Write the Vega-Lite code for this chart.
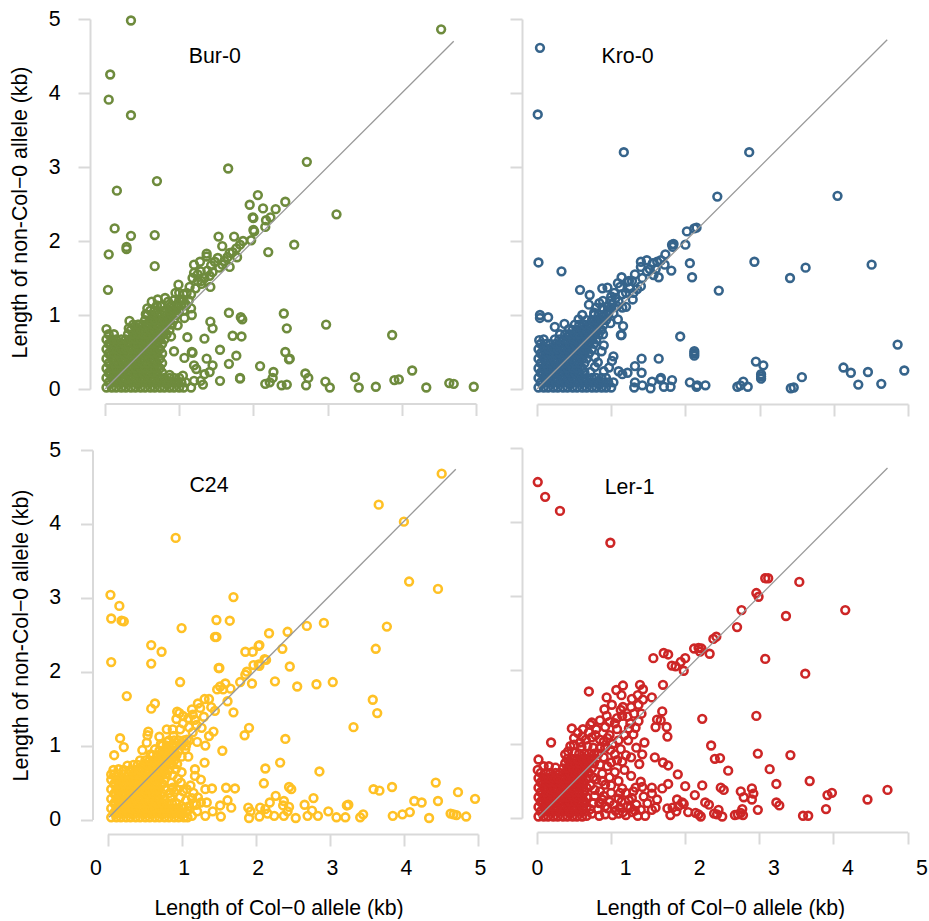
{"$schema":"https://vega.github.io/schema/vega-lite/v6.json","background":"white","padding":{"left":9,"top":8,"right":0,"bottom":0},"columns":2,"spacing":{"row":56,"column":59},"bounds":"flush","config":{"view":{"stroke":null},"axis":{"grid":false,"domainColor":"#d9d9d9","domainWidth":2,"tickColor":"#d9d9d9","tickWidth":2,"tickSize":12,"labelFont":"Liberation Sans","labelFontSize":21.3,"labelColor":"#000000","titleFont":"Liberation Sans","titleFontSize":21.3,"titleFontWeight":"normal","titleColor":"#000000","labelBound":false,"labelFlush":false,"labelOverlap":false,"format":"d"}},
"datasets":{
"bur":[{"x":1.1,"y":1.3},{"x":1.22,"y":1.36},{"x":1.3,"y":1.42},{"x":1.25,"y":1.55},{"x":1.38,"y":1.6},{"x":1.45,"y":1.58},{"x":1.48,"y":1.72},{"x":1.58,"y":1.68},{"x":1.65,"y":1.78},{"x":1.72,"y":1.85},{"x":1.34,"y":1.5},{"x":1.06,"y":1.28},{"x":1.0,"y":1.3},{"x":0.85,"y":1.18},{"x":0.35,"y":4.98},{"x":4.53,"y":4.86},{"x":0.07,"y":4.25},{"x":0.05,"y":3.91},{"x":0.35,"y":3.7},{"x":1.66,"y":2.98},{"x":2.72,"y":3.07},{"x":0.7,"y":2.81},{"x":0.16,"y":2.68},{"x":2.06,"y":2.62},{"x":3.12,"y":2.36},{"x":0.13,"y":2.17},{"x":0.67,"y":2.08},{"x":0.35,"y":2.07},{"x":0.29,"y":1.92},{"x":0.29,"y":1.89},{"x":0.05,"y":1.82},{"x":0.67,"y":1.66},{"x":0.04,"y":1.34},{"x":2.55,"y":1.95},{"x":2.2,"y":1.85},{"x":1.95,"y":2.49},{"x":2.13,"y":2.44},{"x":2.3,"y":2.43},{"x":2.43,"y":2.53},{"x":1.99,"y":2.32},{"x":2.0,"y":2.31},{"x":2.17,"y":2.28},{"x":2.23,"y":2.32},{"x":2.16,"y":2.19},{"x":2.0,"y":2.15},{"x":2.01,"y":2.13},{"x":1.53,"y":2.06},{"x":1.74,"y":2.06},{"x":1.58,"y":1.93},{"x":1.86,"y":2.0},{"x":1.82,"y":1.95},{"x":1.77,"y":1.9},{"x":1.68,"y":1.84},{"x":1.97,"y":2.01},{"x":1.78,"y":1.78},{"x":1.37,"y":1.83},{"x":1.37,"y":1.79},{"x":1.52,"y":1.77},{"x":1.2,"y":1.68},{"x":1.28,"y":1.72},{"x":1.43,"y":1.67},{"x":1.61,"y":1.73},{"x":1.54,"y":1.64},{"x":1.68,"y":1.65},{"x":1.42,"y":1.38},{"x":0.99,"y":1.41},{"x":0.95,"y":1.3},{"x":1.14,"y":1.38},{"x":1.2,"y":1.57},{"x":1.18,"y":1.5},{"x":1.29,"y":1.59},{"x":1.3,"y":1.46},{"x":1.41,"y":1.53},{"x":1.25,"y":1.46},{"x":1.16,"y":1.28},{"x":1.16,"y":1.09},{"x":1.17,"y":1.0},{"x":1.07,"y":0.96},{"x":1.03,"y":1.2},{"x":0.81,"y":1.23},{"x":0.71,"y":1.21},{"x":0.63,"y":1.18},{"x":0.57,"y":1.09},{"x":0.55,"y":1.01},{"x":0.75,"y":1.12},{"x":0.89,"y":1.12},{"x":0.98,"y":1.14},{"x":1.09,"y":1.14},{"x":0.33,"y":0.92},{"x":0.32,"y":0.82},{"x":0.46,"y":0.87},{"x":0.02,"y":0.81},{"x":0.98,"y":0.86},{"x":0.89,"y":0.71},{"x":1.11,"y":0.7},{"x":1.34,"y":0.68},{"x":1.42,"y":0.91},{"x":1.45,"y":0.82},{"x":1.67,"y":1.03},{"x":1.83,"y":0.97},{"x":1.85,"y":0.94},{"x":1.72,"y":0.72},{"x":1.84,"y":0.71},{"x":1.55,"y":0.53},{"x":1.77,"y":0.45},{"x":1.17,"y":0.5},{"x":1.18,"y":0.49},{"x":1.07,"y":0.42},{"x":1.37,"y":0.41},{"x":0.93,"y":0.51},{"x":1.67,"y":0.34},{"x":1.45,"y":0.32},{"x":1.2,"y":0.32},{"x":1.23,"y":0.27},{"x":1.41,"y":0.23},{"x":1.34,"y":0.2},{"x":2.09,"y":0.31},{"x":2.27,"y":0.23},{"x":2.26,"y":0.15},{"x":2.22,"y":0.09},{"x":2.16,"y":0.07},{"x":2.38,"y":0.05},{"x":2.45,"y":0.06},{"x":2.43,"y":0.5},{"x":2.49,"y":0.41},{"x":2.48,"y":0.4},{"x":2.41,"y":1.02},{"x":2.45,"y":0.82},{"x":2.98,"y":0.87},{"x":3.87,"y":0.73},{"x":2.7,"y":0.21},{"x":2.74,"y":0.15},{"x":2.71,"y":0.05},{"x":2.97,"y":0.1},{"x":3.03,"y":0.02},{"x":3.37,"y":0.16},{"x":3.42,"y":0.02},{"x":3.65,"y":0.03},{"x":3.9,"y":0.12},{"x":3.96,"y":0.13},{"x":4.14,"y":0.25},{"x":4.33,"y":0.02},{"x":4.64,"y":0.08},{"x":4.7,"y":0.07},{"x":4.97,"y":0.03},{"x":1.82,"y":0.15},{"x":1.82,"y":0.14},{"x":1.55,"y":0.11},{"x":1.32,"y":0.06},{"x":1.29,"y":0.11},{"x":1.2,"y":0.11},{"x":1.16,"y":0.02},{"x":1.05,"y":0.18},{"x":0.87,"y":0.19},
{"x":0.02,"y":0.02},{"x":0.09,"y":0.02},{"x":0.15,"y":0.02},{"x":0.22,"y":0.02},{"x":0.28,"y":0.02},{"x":0.35,"y":0.02},{"x":0.41,"y":0.02},{"x":0.48,"y":0.02},{"x":0.54,"y":0.02},{"x":0.61,"y":0.02},{"x":0.67,"y":0.02},{"x":0.74,"y":0.02},{"x":0.8,"y":0.02},{"x":0.87,"y":0.02},{"x":0.93,"y":0.02},{"x":1.0,"y":0.02},{"x":1.06,"y":0.02},
{"x":0.05,"y":0.09},{"x":0.12,"y":0.09},{"x":0.18,"y":0.09},{"x":0.25,"y":0.09},{"x":0.31,"y":0.09},{"x":0.38,"y":0.09},{"x":0.44,"y":0.09},{"x":0.51,"y":0.09},{"x":0.57,"y":0.09},{"x":0.64,"y":0.09},{"x":0.7,"y":0.09},{"x":0.77,"y":0.09},{"x":0.83,"y":0.09},{"x":0.9,"y":0.09},{"x":0.96,"y":0.09},{"x":1.03,"y":0.09},{"x":1.09,"y":0.09},
{"x":0.02,"y":0.15},{"x":0.09,"y":0.15},{"x":0.15,"y":0.15},{"x":0.22,"y":0.15},{"x":0.28,"y":0.15},{"x":0.35,"y":0.15},{"x":0.41,"y":0.15},{"x":0.48,"y":0.15},{"x":0.54,"y":0.15},{"x":0.61,"y":0.15},{"x":0.67,"y":0.15},{"x":0.74,"y":0.15},{"x":0.8,"y":0.15},{"x":0.87,"y":0.15},{"x":0.93,"y":0.15},{"x":1.0,"y":0.15},
{"x":0.05,"y":0.22},{"x":0.12,"y":0.22},{"x":0.18,"y":0.22},{"x":0.25,"y":0.22},{"x":0.31,"y":0.22},{"x":0.38,"y":0.22},{"x":0.44,"y":0.22},{"x":0.51,"y":0.22},{"x":0.57,"y":0.22},{"x":0.64,"y":0.22},{"x":0.7,"y":0.22},{"x":0.77,"y":0.22},
{"x":0.02,"y":0.28},{"x":0.09,"y":0.28},{"x":0.15,"y":0.28},{"x":0.22,"y":0.28},{"x":0.28,"y":0.28},{"x":0.35,"y":0.28},{"x":0.41,"y":0.28},{"x":0.48,"y":0.28},{"x":0.54,"y":0.28},{"x":0.61,"y":0.28},{"x":0.67,"y":0.28},{"x":0.74,"y":0.28},
{"x":0.05,"y":0.35},{"x":0.12,"y":0.35},{"x":0.18,"y":0.35},{"x":0.25,"y":0.35},{"x":0.31,"y":0.35},{"x":0.38,"y":0.35},{"x":0.44,"y":0.35},{"x":0.51,"y":0.35},{"x":0.57,"y":0.35},{"x":0.64,"y":0.35},{"x":0.7,"y":0.35},{"x":0.77,"y":0.35},
{"x":0.02,"y":0.41},{"x":0.09,"y":0.41},{"x":0.15,"y":0.41},{"x":0.22,"y":0.41},{"x":0.28,"y":0.41},{"x":0.35,"y":0.41},{"x":0.41,"y":0.41},{"x":0.48,"y":0.41},{"x":0.54,"y":0.41},{"x":0.61,"y":0.41},{"x":0.67,"y":0.41},{"x":0.74,"y":0.41},
{"x":0.05,"y":0.48},{"x":0.12,"y":0.48},{"x":0.18,"y":0.48},{"x":0.25,"y":0.48},{"x":0.31,"y":0.48},{"x":0.38,"y":0.48},{"x":0.44,"y":0.48},{"x":0.51,"y":0.48},{"x":0.57,"y":0.48},{"x":0.64,"y":0.48},{"x":0.7,"y":0.48},{"x":0.77,"y":0.48},
{"x":0.02,"y":0.54},{"x":0.09,"y":0.54},{"x":0.15,"y":0.54},{"x":0.22,"y":0.54},{"x":0.28,"y":0.54},{"x":0.35,"y":0.54},{"x":0.41,"y":0.54},{"x":0.48,"y":0.54},{"x":0.54,"y":0.54},{"x":0.61,"y":0.54},{"x":0.67,"y":0.54},{"x":0.74,"y":0.54},
{"x":0.05,"y":0.61},{"x":0.12,"y":0.61},{"x":0.18,"y":0.61},{"x":0.25,"y":0.61},{"x":0.31,"y":0.61},{"x":0.38,"y":0.61},{"x":0.44,"y":0.61},{"x":0.51,"y":0.61},{"x":0.57,"y":0.61},{"x":0.64,"y":0.61},{"x":0.7,"y":0.61},{"x":0.77,"y":0.61},
{"x":0.02,"y":0.67},{"x":0.09,"y":0.67},{"x":0.15,"y":0.67},{"x":0.22,"y":0.67},{"x":0.28,"y":0.67},{"x":0.35,"y":0.67},{"x":0.41,"y":0.67},{"x":0.48,"y":0.67},{"x":0.54,"y":0.67},{"x":0.61,"y":0.67},{"x":0.67,"y":0.67},{"x":0.74,"y":0.67},{"x":0.8,"y":0.67},
{"x":0.05,"y":0.74},{"x":0.12,"y":0.74},{"x":0.31,"y":0.74},{"x":0.38,"y":0.74},{"x":0.44,"y":0.74},{"x":0.51,"y":0.74},{"x":0.57,"y":0.74},{"x":0.64,"y":0.74},{"x":0.7,"y":0.74},{"x":0.77,"y":0.74},{"x":0.83,"y":0.74},
{"x":0.35,"y":0.8},{"x":0.41,"y":0.8},{"x":0.48,"y":0.8},{"x":0.54,"y":0.8},{"x":0.61,"y":0.8},{"x":0.67,"y":0.8},{"x":0.74,"y":0.8},{"x":0.8,"y":0.8},{"x":0.87,"y":0.8},
{"x":0.38,"y":0.87},{"x":0.44,"y":0.87},{"x":0.51,"y":0.87},{"x":0.57,"y":0.87},{"x":0.64,"y":0.87},{"x":0.7,"y":0.87},{"x":0.77,"y":0.87},{"x":0.83,"y":0.87},{"x":0.9,"y":0.87},
{"x":0.54,"y":0.93},{"x":0.61,"y":0.93},{"x":0.67,"y":0.93},{"x":0.74,"y":0.93},{"x":0.8,"y":0.93},{"x":0.87,"y":0.93},{"x":0.93,"y":0.93},
{"x":0.57,"y":1.0},{"x":0.64,"y":1.0},{"x":0.7,"y":1.0},{"x":0.77,"y":1.0},{"x":0.83,"y":1.0},{"x":0.9,"y":1.0},{"x":0.96,"y":1.0},
{"x":0.61,"y":1.06},{"x":0.67,"y":1.06},{"x":0.8,"y":1.06},{"x":0.87,"y":1.06},{"x":0.93,"y":1.06},{"x":1.0,"y":1.06},{"x":1.06,"y":1.06},
{"x":0.7,"y":1.13},{"x":0.77,"y":1.13},{"x":0.9,"y":1.13},{"x":0.96,"y":1.13},{"x":1.03,"y":1.13},{"x":1.09,"y":1.13},{"x":0.93,"y":1.2},{"x":1.0,"y":1.2},{"x":1.06,"y":1.2},{"x":1.13,"y":1.2}],
"kro":[{"x":1.12,"y":1.38},{"x":1.2,"y":1.3},{"x":1.25,"y":1.36},{"x":1.3,"y":1.3},{"x":1.0,"y":1.25},{"x":1.1,"y":1.18},{"x":0.8,"y":1.1},{"x":0.84,"y":1.16},{"x":1.02,"y":1.15},{"x":0.95,"y":1.12},{"x":1.32,"y":1.55},{"x":1.52,"y":1.62},{"x":1.56,"y":1.7},{"x":1.6,"y":1.62},{"x":1.22,"y":1.45},{"x":0.04,"y":4.61},{"x":0.01,"y":3.71},{"x":1.17,"y":3.2},{"x":2.86,"y":3.2},{"x":2.43,"y":2.6},{"x":4.05,"y":2.61},{"x":0.02,"y":1.71},{"x":0.33,"y":1.59},{"x":2.93,"y":1.72},{"x":3.62,"y":1.64},{"x":3.41,"y":1.5},{"x":4.51,"y":1.68},{"x":2.45,"y":1.33},{"x":1.93,"y":0.71},{"x":2.12,"y":0.51},{"x":2.12,"y":0.48},{"x":2.12,"y":0.45},{"x":4.86,"y":0.6},{"x":4.95,"y":0.25},{"x":4.13,"y":0.29},{"x":4.23,"y":0.22},{"x":4.46,"y":0.23},{"x":4.33,"y":0.06},{"x":4.64,"y":0.07},{"x":3.57,"y":0.16},{"x":3.42,"y":0.01},{"x":3.46,"y":0.02},{"x":2.95,"y":0.37},{"x":3.05,"y":0.32},{"x":3.02,"y":0.2},{"x":3.02,"y":0.17},{"x":3.02,"y":0.14},{"x":2.7,"y":0.03},{"x":2.74,"y":0.05},{"x":2.78,"y":0.1},{"x":2.84,"y":0.03},{"x":2.27,"y":0.05},{"x":2.16,"y":0.05},{"x":2.15,"y":0.03},{"x":2.06,"y":0.09},{"x":1.8,"y":0.03},{"x":1.82,"y":0.12},{"x":1.71,"y":0.03},{"x":1.67,"y":0.15},{"x":1.66,"y":0.13},{"x":1.55,"y":0.1},{"x":1.53,"y":0.01},{"x":1.42,"y":0.05},{"x":1.31,"y":0.02},{"x":1.32,"y":0.09},{"x":1.41,"y":0.22},{"x":1.41,"y":0.41},{"x":1.64,"y":0.41},{"x":1.32,"y":0.31},{"x":1.22,"y":0.22},{"x":1.1,"y":0.24},{"x":1.15,"y":0.2},{"x":1.03,"y":0.44},{"x":1.01,"y":0.38},{"x":0.97,"y":0.29},{"x":0.9,"y":0.59},{"x":0.87,"y":0.51},{"x":0.89,"y":0.74},{"x":1.14,"y":0.73},{"x":1.13,"y":0.73},{"x":1.16,"y":0.85},{"x":1.09,"y":0.94},{"x":0.99,"y":0.89},{"x":0.04,"y":1.0},{"x":0.04,"y":0.96},{"x":0.15,"y":0.97},{"x":0.24,"y":0.84},{"x":0.37,"y":0.88},{"x":0.43,"y":0.81},{"x":0.56,"y":0.94},{"x":0.61,"y":1.0},{"x":0.58,"y":1.34},{"x":0.71,"y":1.27},{"x":0.7,"y":1.14},{"x":0.88,"y":1.36},{"x":0.95,"y":1.37},{"x":1.14,"y":1.51},{"x":1.09,"y":1.43},{"x":1.24,"y":1.46},{"x":1.28,"y":1.46},{"x":0.89,"y":1.19},{"x":1.04,"y":1.3},{"x":1.15,"y":1.28},{"x":1.29,"y":1.21},{"x":1.2,"y":1.11},{"x":1.15,"y":1.1},{"x":0.88,"y":1.1},{"x":0.95,"y":1.05},{"x":0.77,"y":1.03},{"x":1.06,"y":1.23},{"x":0.99,"y":1.19},{"x":1.35,"y":1.35},{"x":1.4,"y":1.39},{"x":1.42,"y":1.5},{"x":1.4,"y":1.72},{"x":1.4,"y":1.65},{"x":1.48,"y":1.74},{"x":1.48,"y":1.59},{"x":1.57,"y":1.54},{"x":1.64,"y":1.51},{"x":1.62,"y":1.72},{"x":1.67,"y":1.74},{"x":1.72,"y":1.68},{"x":1.73,"y":1.82},{"x":1.81,"y":1.6},{"x":2.06,"y":1.7},{"x":2.09,"y":1.51},{"x":1.82,"y":1.95},{"x":1.84,"y":1.96},{"x":1.83,"y":1.92},{"x":2.0,"y":1.95},{"x":2.02,"y":2.13},{"x":2.12,"y":2.17},{"x":2.15,"y":2.18},
{"x":0.02,"y":0.02},{"x":0.09,"y":0.02},{"x":0.15,"y":0.02},{"x":0.22,"y":0.02},{"x":0.28,"y":0.02},{"x":0.35,"y":0.02},{"x":0.41,"y":0.02},{"x":0.48,"y":0.02},{"x":0.54,"y":0.02},{"x":0.61,"y":0.02},{"x":0.67,"y":0.02},{"x":0.74,"y":0.02},{"x":0.8,"y":0.02},{"x":0.87,"y":0.02},{"x":0.93,"y":0.02},{"x":1.0,"y":0.02},
{"x":0.05,"y":0.09},{"x":0.12,"y":0.09},{"x":0.18,"y":0.09},{"x":0.25,"y":0.09},{"x":0.31,"y":0.09},{"x":0.38,"y":0.09},{"x":0.44,"y":0.09},{"x":0.51,"y":0.09},{"x":0.57,"y":0.09},{"x":0.64,"y":0.09},{"x":0.7,"y":0.09},{"x":0.77,"y":0.09},{"x":0.83,"y":0.09},{"x":0.9,"y":0.09},{"x":0.96,"y":0.09},{"x":1.03,"y":0.09},
{"x":0.02,"y":0.15},{"x":0.09,"y":0.15},{"x":0.15,"y":0.15},{"x":0.22,"y":0.15},{"x":0.28,"y":0.15},{"x":0.35,"y":0.15},{"x":0.41,"y":0.15},{"x":0.48,"y":0.15},{"x":0.54,"y":0.15},{"x":0.61,"y":0.15},{"x":0.67,"y":0.15},{"x":0.74,"y":0.15},{"x":0.8,"y":0.15},{"x":0.87,"y":0.15},{"x":0.93,"y":0.15},
{"x":0.05,"y":0.22},{"x":0.12,"y":0.22},{"x":0.18,"y":0.22},{"x":0.25,"y":0.22},{"x":0.31,"y":0.22},{"x":0.38,"y":0.22},{"x":0.44,"y":0.22},{"x":0.51,"y":0.22},{"x":0.57,"y":0.22},{"x":0.64,"y":0.22},{"x":0.72,"y":0.23},{"x":0.9,"y":0.24},
{"x":0.02,"y":0.28},{"x":0.09,"y":0.28},{"x":0.15,"y":0.28},{"x":0.22,"y":0.28},{"x":0.28,"y":0.28},{"x":0.35,"y":0.28},{"x":0.41,"y":0.28},{"x":0.48,"y":0.28},{"x":0.54,"y":0.28},{"x":0.61,"y":0.28},{"x":0.78,"y":0.3},
{"x":0.05,"y":0.35},{"x":0.12,"y":0.35},{"x":0.18,"y":0.35},{"x":0.25,"y":0.35},{"x":0.31,"y":0.35},{"x":0.38,"y":0.35},{"x":0.44,"y":0.35},{"x":0.51,"y":0.35},{"x":0.57,"y":0.35},{"x":0.64,"y":0.35},{"x":0.82,"y":0.36},
{"x":0.02,"y":0.41},{"x":0.09,"y":0.41},{"x":0.15,"y":0.41},{"x":0.22,"y":0.41},{"x":0.28,"y":0.41},{"x":0.35,"y":0.41},{"x":0.41,"y":0.41},{"x":0.48,"y":0.41},{"x":0.54,"y":0.41},{"x":0.61,"y":0.41},{"x":0.67,"y":0.41},{"x":0.78,"y":0.43},
{"x":0.05,"y":0.48},{"x":0.12,"y":0.48},{"x":0.18,"y":0.48},{"x":0.25,"y":0.48},{"x":0.31,"y":0.48},{"x":0.38,"y":0.48},{"x":0.44,"y":0.48},{"x":0.51,"y":0.48},{"x":0.57,"y":0.48},{"x":0.64,"y":0.48},{"x":0.7,"y":0.48},
{"x":0.02,"y":0.54},{"x":0.09,"y":0.54},{"x":0.15,"y":0.54},{"x":0.22,"y":0.54},{"x":0.28,"y":0.54},{"x":0.35,"y":0.54},{"x":0.41,"y":0.54},{"x":0.48,"y":0.54},{"x":0.54,"y":0.54},{"x":0.61,"y":0.54},{"x":0.67,"y":0.54},{"x":0.74,"y":0.54},
{"x":0.05,"y":0.61},{"x":0.12,"y":0.61},{"x":0.18,"y":0.61},{"x":0.25,"y":0.61},{"x":0.31,"y":0.61},{"x":0.38,"y":0.61},{"x":0.44,"y":0.61},{"x":0.51,"y":0.61},{"x":0.57,"y":0.61},{"x":0.64,"y":0.61},{"x":0.7,"y":0.61},{"x":0.77,"y":0.61},
{"x":0.03,"y":0.66},{"x":0.09,"y":0.67},{"x":0.24,"y":0.67},{"x":0.3,"y":0.67},{"x":0.36,"y":0.67},{"x":0.41,"y":0.67},{"x":0.48,"y":0.67},{"x":0.54,"y":0.67},{"x":0.61,"y":0.67},{"x":0.67,"y":0.67},{"x":0.74,"y":0.67},{"x":0.8,"y":0.67},
{"x":0.31,"y":0.74},{"x":0.38,"y":0.74},{"x":0.44,"y":0.74},{"x":0.51,"y":0.74},{"x":0.57,"y":0.74},{"x":0.64,"y":0.74},{"x":0.7,"y":0.74},{"x":0.77,"y":0.74},{"x":0.83,"y":0.74},
{"x":0.48,"y":0.8},{"x":0.54,"y":0.8},{"x":0.61,"y":0.8},{"x":0.67,"y":0.8},{"x":0.74,"y":0.8},{"x":0.8,"y":0.8},{"x":0.87,"y":0.8},{"x":0.51,"y":0.87},{"x":0.57,"y":0.87},{"x":0.64,"y":0.87},{"x":0.7,"y":0.87},{"x":0.77,"y":0.87},{"x":0.83,"y":0.87},{"x":0.9,"y":0.87},{"x":0.67,"y":0.93},{"x":0.74,"y":0.93},{"x":0.8,"y":0.93},{"x":0.87,"y":0.93},{"x":0.93,"y":0.93},{"x":0.77,"y":1.0},{"x":0.83,"y":1.0},{"x":0.9,"y":1.0},{"x":0.96,"y":1.0},{"x":1.03,"y":1.02},{"x":1.0,"y":1.1},{"x":1.08,"y":1.12}],
"c24":[{"x":0.84,"y":0.36},{"x":0.88,"y":0.43},{"x":0.94,"y":0.4},{"x":0.86,"y":0.5},{"x":0.98,"y":0.3},{"x":1.02,"y":0.38},{"x":1.06,"y":0.26},{"x":1.0,"y":0.18},{"x":1.08,"y":0.12},{"x":1.14,"y":0.05},{"x":1.08,"y":0.03},{"x":1.2,"y":0.2},{"x":1.22,"y":0.3},{"x":1.12,"y":0.46},{"x":0.95,"y":0.55},{"x":0.88,"y":0.6},{"x":1.0,"y":0.85},{"x":0.92,"y":0.68},{"x":1.05,"y":0.95},{"x":1.15,"y":1.18},{"x":1.1,"y":1.25},{"x":1.02,"y":1.3},{"x":0.88,"y":1.22},{"x":0.72,"y":1.02},{"x":0.64,"y":0.95},{"x":0.58,"y":0.88},{"x":0.8,"y":1.05},{"x":1.2,"y":1.28},{"x":1.15,"y":1.42},{"x":1.02,"y":1.4},{"x":4.51,"y":4.68},{"x":3.66,"y":4.26},{"x":4.0,"y":4.03},{"x":0.92,"y":3.81},{"x":4.07,"y":3.22},{"x":4.46,"y":3.12},{"x":0.04,"y":3.04},{"x":1.7,"y":3.01},{"x":0.16,"y":2.89},{"x":0.05,"y":2.72},{"x":0.19,"y":2.69},{"x":0.22,"y":2.68},{"x":1.47,"y":2.7},{"x":1.65,"y":2.69},{"x":1.47,"y":2.47},{"x":1.0,"y":2.59},{"x":2.69,"y":2.62},{"x":2.92,"y":2.66},{"x":3.77,"y":2.61},{"x":2.43,"y":2.54},{"x":2.04,"y":2.35},{"x":1.51,"y":2.05},{"x":2.14,"y":2.16},{"x":2.04,"y":2.1},{"x":1.45,"y":2.47},{"x":2.18,"y":2.52},{"x":0.59,"y":2.36},{"x":0.73,"y":2.27},{"x":1.86,"y":2.27},{"x":1.96,"y":2.27},{"x":2.05,"y":2.36},{"x":2.36,"y":2.31},{"x":3.62,"y":2.31},{"x":0.05,"y":2.13},{"x":0.59,"y":2.11},{"x":2.12,"y":2.17},{"x":1.97,"y":2.09},{"x":2.05,"y":2.08},{"x":2.46,"y":2.07},{"x":1.5,"y":2.05},{"x":1.88,"y":2.0},{"x":1.86,"y":1.96},{"x":1.79,"y":1.86},{"x":1.95,"y":1.84},{"x":2.26,"y":1.87},{"x":2.56,"y":1.8},{"x":2.82,"y":1.83},{"x":3.04,"y":1.86},{"x":0.98,"y":1.86},{"x":3.58,"y":1.62},{"x":3.64,"y":1.44},{"x":3.32,"y":1.25},{"x":0.26,"y":1.67},{"x":0.64,"y":1.57},{"x":0.59,"y":1.5},{"x":1.52,"y":1.8},{"x":1.59,"y":1.84},{"x":1.48,"y":1.76},{"x":1.66,"y":1.77},{"x":1.56,"y":1.76},{"x":1.62,"y":1.6},{"x":1.7,"y":1.45},{"x":1.37,"y":1.63},{"x":1.31,"y":1.63},{"x":1.22,"y":1.57},{"x":1.45,"y":1.47},{"x":1.4,"y":1.52},{"x":1.14,"y":1.49},{"x":1.25,"y":1.51},{"x":0.94,"y":1.46},{"x":0.97,"y":1.44},{"x":0.93,"y":1.36},{"x":1.09,"y":1.37},{"x":1.18,"y":1.35},{"x":1.3,"y":1.39},{"x":1.91,"y":1.24},{"x":1.85,"y":1.14},{"x":2.4,"y":1.09},{"x":1.43,"y":1.19},{"x":1.37,"y":1.13},{"x":1.32,"y":1.0},{"x":1.21,"y":1.05},{"x":1.55,"y":0.93},{"x":1.27,"y":1.24},{"x":0.55,"y":1.19},{"x":0.54,"y":1.14},{"x":0.7,"y":1.12},{"x":0.8,"y":1.22},{"x":0.17,"y":1.1},{"x":0.22,"y":0.98},{"x":0.09,"y":0.87},{"x":0.53,"y":1.04},{"x":0.47,"y":0.94},{"x":0.89,"y":1.13},{"x":0.98,"y":1.22},{"x":1.07,"y":1.08},{"x":1.09,"y":0.85},{"x":1.31,"y":0.77},{"x":0.94,"y":0.75},{"x":1.18,"y":0.68},{"x":1.18,"y":0.59},{"x":1.0,"y":0.64},{"x":1.26,"y":0.54},{"x":0.99,"y":0.5},{"x":2.13,"y":0.69},{"x":2.33,"y":0.77},{"x":2.86,"y":0.65},{"x":2.11,"y":0.49},{"x":1.6,"y":0.43},{"x":1.72,"y":0.42},{"x":1.41,"y":0.42},{"x":1.32,"y":0.41},{"x":2.45,"y":0.44},{"x":2.48,"y":0.41},{"x":3.59,"y":0.41},{"x":3.67,"y":0.39},{"x":3.84,"y":0.44},{"x":4.43,"y":0.5},{"x":4.73,"y":0.37},{"x":4.96,"y":0.28},{"x":4.14,"y":0.25},{"x":4.24,"y":0.23},{"x":4.46,"y":0.25},{"x":2.27,"y":0.32},{"x":2.19,"y":0.23},{"x":2.38,"y":0.25},{"x":2.78,"y":0.29},{"x":2.66,"y":0.2},{"x":3.23,"y":0.19},{"x":3.25,"y":0.2},{"x":2.45,"y":0.17},{"x":2.37,"y":0.19},{"x":2.06,"y":0.16},{"x":1.9,"y":0.16},{"x":1.93,"y":0.11},{"x":1.91,"y":0.02},{"x":2.05,"y":0.04},{"x":2.13,"y":0.14},{"x":2.16,"y":0.08},{"x":2.25,"y":0.05},{"x":2.38,"y":0.05},{"x":2.43,"y":0.11},{"x":2.54,"y":0.02},{"x":2.7,"y":0.05},{"x":2.76,"y":0.12},{"x":2.84,"y":0.05},{"x":2.98,"y":0.11},{"x":3.09,"y":0.03},{"x":3.21,"y":0.03},{"x":3.41,"y":0.03},{"x":3.45,"y":0.07},{"x":3.85,"y":0.05},{"x":3.98,"y":0.07},{"x":4.08,"y":0.1},{"x":4.34,"y":0.02},{"x":4.63,"y":0.08},{"x":4.67,"y":0.07},{"x":4.71,"y":0.06},{"x":4.84,"y":0.04},{"x":1.67,"y":0.16},{"x":1.62,"y":0.26},{"x":1.52,"y":0.19},{"x":1.53,"y":0.04},{"x":1.42,"y":0.11},{"x":1.32,"y":0.05},{"x":1.26,"y":0.23},{"x":1.34,"y":0.23},{"x":1.16,"y":0.36},{"x":1.07,"y":0.41},{"x":1.14,"y":0.29},{"x":1.21,"y":0.11},{"x":1.1,"y":0.18},{"x":1.16,"y":0.22},
{"x":0.05,"y":0.03},{"x":0.12,"y":0.03},{"x":0.18,"y":0.03},{"x":0.25,"y":0.03},{"x":0.31,"y":0.03},{"x":0.38,"y":0.03},{"x":0.44,"y":0.03},{"x":0.51,"y":0.03},{"x":0.57,"y":0.03},{"x":0.64,"y":0.03},{"x":0.7,"y":0.03},{"x":0.77,"y":0.03},{"x":0.83,"y":0.03},{"x":0.9,"y":0.03},{"x":0.96,"y":0.03},{"x":1.03,"y":0.03},
{"x":0.09,"y":0.09},{"x":0.15,"y":0.09},{"x":0.22,"y":0.09},{"x":0.28,"y":0.09},{"x":0.35,"y":0.09},{"x":0.41,"y":0.09},{"x":0.48,"y":0.09},{"x":0.54,"y":0.09},{"x":0.61,"y":0.09},{"x":0.67,"y":0.09},{"x":0.74,"y":0.09},{"x":0.8,"y":0.09},{"x":0.87,"y":0.09},{"x":0.93,"y":0.09},{"x":1.0,"y":0.09},{"x":1.06,"y":0.09},
{"x":0.05,"y":0.15},{"x":0.12,"y":0.15},{"x":0.18,"y":0.15},{"x":0.25,"y":0.15},{"x":0.31,"y":0.15},{"x":0.38,"y":0.15},{"x":0.44,"y":0.15},{"x":0.51,"y":0.15},{"x":0.57,"y":0.15},{"x":0.64,"y":0.15},{"x":0.7,"y":0.15},{"x":0.77,"y":0.15},{"x":0.83,"y":0.15},{"x":0.9,"y":0.15},{"x":0.96,"y":0.15},{"x":1.03,"y":0.15},
{"x":0.09,"y":0.22},{"x":0.15,"y":0.22},{"x":0.22,"y":0.22},{"x":0.28,"y":0.22},{"x":0.35,"y":0.22},{"x":0.41,"y":0.22},{"x":0.48,"y":0.22},{"x":0.54,"y":0.22},{"x":0.61,"y":0.22},{"x":0.67,"y":0.22},{"x":0.74,"y":0.22},{"x":0.8,"y":0.22},{"x":0.87,"y":0.22},{"x":0.93,"y":0.22},
{"x":0.05,"y":0.28},{"x":0.12,"y":0.28},{"x":0.18,"y":0.28},{"x":0.25,"y":0.28},{"x":0.31,"y":0.28},{"x":0.38,"y":0.28},{"x":0.44,"y":0.28},{"x":0.51,"y":0.28},{"x":0.57,"y":0.28},{"x":0.64,"y":0.28},{"x":0.7,"y":0.28},{"x":0.77,"y":0.28},{"x":0.85,"y":0.3},
{"x":0.09,"y":0.35},{"x":0.15,"y":0.35},{"x":0.22,"y":0.35},{"x":0.28,"y":0.35},{"x":0.35,"y":0.35},{"x":0.41,"y":0.35},{"x":0.48,"y":0.35},{"x":0.54,"y":0.35},{"x":0.61,"y":0.35},{"x":0.67,"y":0.35},{"x":0.74,"y":0.35},{"x":0.9,"y":0.37},
{"x":0.05,"y":0.41},{"x":0.12,"y":0.41},{"x":0.18,"y":0.41},{"x":0.25,"y":0.41},{"x":0.31,"y":0.41},{"x":0.38,"y":0.41},{"x":0.44,"y":0.41},{"x":0.51,"y":0.41},{"x":0.57,"y":0.41},{"x":0.64,"y":0.41},{"x":0.7,"y":0.41},{"x":0.77,"y":0.41},
{"x":0.09,"y":0.48},{"x":0.15,"y":0.48},{"x":0.22,"y":0.48},{"x":0.28,"y":0.48},{"x":0.35,"y":0.48},{"x":0.41,"y":0.48},{"x":0.48,"y":0.48},{"x":0.54,"y":0.48},{"x":0.61,"y":0.48},{"x":0.67,"y":0.48},{"x":0.74,"y":0.48},
{"x":0.05,"y":0.54},{"x":0.12,"y":0.54},{"x":0.18,"y":0.54},{"x":0.25,"y":0.54},{"x":0.31,"y":0.54},{"x":0.38,"y":0.54},{"x":0.44,"y":0.54},{"x":0.51,"y":0.54},{"x":0.57,"y":0.54},{"x":0.64,"y":0.54},{"x":0.7,"y":0.54},{"x":0.77,"y":0.54},
{"x":0.05,"y":0.61},{"x":0.09,"y":0.61},{"x":0.15,"y":0.61},{"x":0.22,"y":0.61},{"x":0.28,"y":0.61},{"x":0.35,"y":0.61},{"x":0.41,"y":0.61},{"x":0.48,"y":0.61},{"x":0.54,"y":0.61},{"x":0.61,"y":0.61},{"x":0.67,"y":0.61},{"x":0.74,"y":0.61},{"x":0.8,"y":0.61},
{"x":0.08,"y":0.67},{"x":0.15,"y":0.68},{"x":0.22,"y":0.67},{"x":0.31,"y":0.67},{"x":0.38,"y":0.67},{"x":0.44,"y":0.67},{"x":0.51,"y":0.67},{"x":0.57,"y":0.67},{"x":0.64,"y":0.67},{"x":0.7,"y":0.67},{"x":0.77,"y":0.67},{"x":0.83,"y":0.67},
{"x":0.27,"y":0.73},{"x":0.35,"y":0.74},{"x":0.41,"y":0.74},{"x":0.48,"y":0.74},{"x":0.54,"y":0.74},{"x":0.61,"y":0.74},{"x":0.67,"y":0.74},{"x":0.74,"y":0.74},{"x":0.8,"y":0.74},{"x":0.87,"y":0.74},
{"x":0.44,"y":0.8},{"x":0.51,"y":0.8},{"x":0.57,"y":0.8},{"x":0.64,"y":0.8},{"x":0.7,"y":0.8},{"x":0.77,"y":0.8},{"x":0.83,"y":0.8},{"x":0.9,"y":0.8},
{"x":0.61,"y":0.87},{"x":0.67,"y":0.87},{"x":0.74,"y":0.87},{"x":0.8,"y":0.87},{"x":0.87,"y":0.87},{"x":0.93,"y":0.87},{"x":0.7,"y":0.93},{"x":0.77,"y":0.93},{"x":0.83,"y":0.93},{"x":0.9,"y":0.93},{"x":0.96,"y":0.93},{"x":0.74,"y":1.0},{"x":0.8,"y":1.0},{"x":0.87,"y":1.0},{"x":0.93,"y":1.0},{"x":1.0,"y":1.0},{"x":1.06,"y":1.0},{"x":0.83,"y":1.07},{"x":0.9,"y":1.07},{"x":0.96,"y":1.07},{"x":1.03,"y":1.07},{"x":1.1,"y":1.07}],
"ler":[{"x":0.5,"y":1.08},{"x":0.58,"y":1.02},{"x":0.66,"y":1.06},{"x":0.7,"y":1.16},{"x":0.8,"y":1.2},{"x":0.85,"y":1.06},{"x":0.98,"y":1.12},{"x":1.02,"y":1.0},{"x":1.1,"y":1.05},{"x":1.18,"y":1.12},{"x":1.3,"y":1.13},{"x":1.05,"y":1.28},{"x":0.85,"y":1.32},{"x":0.98,"y":1.3},{"x":1.26,"y":1.28},{"x":1.2,"y":0.85},{"x":1.05,"y":0.86},{"x":0.9,"y":0.82},{"x":1.0,"y":0.75},{"x":0.62,"y":1.2},{"x":0.55,"y":1.15},{"x":1.33,"y":1.22},{"x":0.78,"y":0.38},{"x":0.9,"y":0.3},{"x":0.98,"y":0.22},{"x":1.06,"y":0.1},{"x":1.14,"y":0.22},{"x":1.24,"y":0.24},{"x":1.3,"y":0.36},{"x":1.12,"y":0.34},{"x":0.84,"y":0.2},{"x":0.92,"y":0.16},{"x":1.0,"y":0.44},{"x":1.1,"y":0.5},{"x":0.88,"y":0.5},{"x":0.76,"y":0.55},{"x":0.72,"y":0.12},{"x":1.16,"y":0.08},{"x":1.26,"y":0.14},{"x":1.32,"y":0.1},{"x":0.01,"y":4.54},{"x":0.11,"y":4.34},{"x":0.31,"y":4.15},{"x":0.99,"y":3.72},{"x":3.08,"y":3.24},{"x":3.12,"y":3.24},{"x":3.54,"y":3.19},{"x":2.96,"y":3.04},{"x":2.99,"y":2.99},{"x":2.76,"y":2.81},{"x":4.16,"y":2.81},{"x":3.36,"y":2.73},{"x":2.7,"y":2.58},{"x":2.42,"y":2.45},{"x":2.38,"y":2.42},{"x":2.12,"y":2.29},{"x":2.18,"y":2.3},{"x":2.22,"y":2.29},{"x":2.2,"y":2.25},{"x":2.33,"y":2.22},{"x":3.08,"y":2.15},{"x":3.62,"y":1.95},{"x":1.57,"y":2.16},{"x":1.71,"y":2.23},{"x":1.77,"y":2.21},{"x":2.0,"y":2.16},{"x":1.94,"y":2.11},{"x":1.82,"y":2.06},{"x":1.87,"y":2.05},{"x":1.98,"y":1.99},{"x":0.7,"y":1.71},{"x":1.07,"y":1.73},{"x":1.16,"y":1.79},{"x":1.14,"y":1.66},{"x":1.39,"y":1.8},{"x":1.43,"y":1.74},{"x":1.7,"y":1.8},{"x":0.94,"y":1.63},{"x":1.01,"y":1.53},{"x":0.91,"y":1.47},{"x":0.94,"y":1.38},{"x":1.28,"y":1.61},{"x":1.36,"y":1.66},{"x":1.43,"y":1.6},{"x":1.55,"y":1.63},{"x":1.16,"y":1.5},{"x":1.27,"y":1.5},{"x":1.37,"y":1.53},{"x":1.41,"y":1.41},{"x":1.13,"y":1.46},{"x":1.08,"y":1.35},{"x":1.15,"y":1.38},{"x":1.22,"y":1.37},{"x":1.31,"y":1.41},{"x":1.37,"y":1.31},{"x":1.69,"y":1.44},{"x":1.62,"y":1.33},{"x":1.67,"y":1.32},{"x":1.6,"y":1.23},{"x":1.75,"y":1.23},{"x":1.76,"y":1.1},{"x":2.23,"y":1.34},{"x":2.96,"y":1.38},{"x":0.47,"y":1.21},{"x":0.72,"y":1.26},{"x":0.74,"y":1.29},{"x":0.92,"y":1.23},{"x":1.08,"y":1.2},{"x":1.24,"y":1.21},{"x":0.61,"y":1.1},{"x":0.74,"y":1.09},{"x":0.79,"y":1.12},{"x":0.95,"y":1.08},{"x":0.9,"y":1.03},{"x":1.23,"y":1.05},{"x":0.19,"y":1.02},{"x":0.45,"y":0.97},{"x":0.5,"y":0.99},{"x":1.45,"y":1.02},{"x":1.34,"y":0.95},{"x":1.13,"y":0.93},{"x":0.99,"y":0.92},{"x":0.38,"y":0.86},{"x":1.42,"y":0.86},{"x":1.27,"y":0.82},{"x":1.59,"y":0.82},{"x":1.7,"y":0.75},{"x":1.77,"y":0.71},{"x":1.38,"y":0.73},{"x":1.15,"y":0.76},{"x":1.08,"y":0.78},{"x":0.02,"y":0.79},{"x":0.01,"y":0.65},{"x":0.09,"y":0.7},{"x":0.16,"y":0.7},{"x":0.25,"y":0.68},{"x":2.35,"y":0.98},{"x":2.4,"y":0.8},{"x":2.47,"y":0.81},{"x":2.58,"y":0.64},{"x":2.98,"y":0.87},{"x":3.42,"y":0.85},{"x":3.14,"y":0.66},{"x":3.23,"y":0.46},{"x":3.68,"y":0.5},{"x":1.9,"y":0.59},{"x":1.18,"y":0.65},{"x":1.27,"y":0.57},{"x":1.77,"y":0.46},{"x":1.69,"y":0.4},{"x":2.0,"y":0.43},{"x":2.23,"y":0.44},{"x":1.4,"y":0.49},{"x":1.55,"y":0.41},{"x":1.33,"y":0.41},{"x":1.15,"y":0.4},{"x":1.42,"y":0.42},{"x":2.48,"y":0.41},{"x":2.52,"y":0.38},{"x":2.75,"y":0.36},{"x":2.9,"y":0.4},{"x":2.92,"y":0.33},{"x":2.79,"y":0.28},{"x":2.9,"y":0.25},{"x":2.13,"y":0.31},{"x":4.73,"y":0.38},{"x":3.98,"y":0.34},{"x":3.92,"y":0.31},{"x":4.46,"y":0.25},{"x":3.23,"y":0.21},{"x":3.27,"y":0.17},{"x":3.9,"y":0.12},{"x":3.59,"y":0.03},{"x":3.66,"y":0.03},{"x":2.98,"y":0.11},{"x":2.77,"y":0.12},{"x":2.75,"y":0.07},{"x":2.67,"y":0.04},{"x":2.71,"y":0.05},{"x":2.78,"y":0.04},{"x":2.5,"y":0.02},{"x":2.45,"y":0.11},{"x":2.39,"y":0.06},{"x":2.43,"y":0.05},{"x":2.32,"y":0.18},{"x":2.27,"y":0.21},{"x":2.21,"y":0.02},{"x":2.14,"y":0.07},{"x":2.18,"y":0.05},{"x":2.04,"y":0.08},{"x":1.98,"y":0.19},{"x":1.89,"y":0.25},{"x":1.96,"y":0.21},{"x":1.91,"y":0.16},{"x":1.76,"y":0.13},{"x":1.83,"y":0.14},{"x":1.8,"y":0.04},{"x":1.88,"y":0.09},{"x":1.62,"y":0.25},{"x":1.55,"y":0.33},{"x":1.6,"y":0.14},{"x":1.46,"y":0.03},{"x":1.44,"y":0.29},{"x":1.49,"y":0.2},{"x":1.55,"y":0.11},{"x":1.4,"y":0.11},
{"x":0.72,"y":0.44},{"x":0.8,"y":0.52},{"x":0.85,"y":0.36},{"x":0.78,"y":0.3},{"x":0.92,"y":0.45},{"x":0.98,"y":0.55},{"x":1.0,"y":0.34},{"x":0.88,"y":0.25},{"x":0.76,"y":0.2},{"x":1.1,"y":0.26},{"x":1.2,"y":0.34},{"x":1.28,"y":0.27},{"x":1.34,"y":0.18},{"x":1.22,"y":0.16},{"x":1.12,"y":0.14},{"x":1.04,"y":0.18},{"x":0.95,"y":0.13},{"x":0.82,"y":0.12},{"x":0.74,"y":0.06},{"x":0.84,"y":0.03},{"x":0.92,"y":0.05},{"x":1.02,"y":0.04},{"x":1.1,"y":0.06},{"x":1.2,"y":0.04},{"x":1.28,"y":0.08},{"x":1.36,"y":0.03},{"x":0.88,"y":0.6},{"x":1.05,"y":0.62},{"x":0.95,"y":0.7},{"x":0.85,"y":0.72},
{"x":0.02,"y":0.02},{"x":0.09,"y":0.02},{"x":0.15,"y":0.02},{"x":0.22,"y":0.02},{"x":0.28,"y":0.02},{"x":0.35,"y":0.02},{"x":0.41,"y":0.02},{"x":0.48,"y":0.02},{"x":0.54,"y":0.02},{"x":0.61,"y":0.02},{"x":0.67,"y":0.03},
{"x":0.05,"y":0.09},{"x":0.12,"y":0.09},{"x":0.18,"y":0.09},{"x":0.25,"y":0.09},{"x":0.31,"y":0.09},{"x":0.38,"y":0.09},{"x":0.44,"y":0.09},{"x":0.51,"y":0.09},{"x":0.57,"y":0.09},{"x":0.64,"y":0.09},
{"x":0.02,"y":0.15},{"x":0.09,"y":0.15},{"x":0.15,"y":0.15},{"x":0.22,"y":0.15},{"x":0.28,"y":0.15},{"x":0.35,"y":0.15},{"x":0.41,"y":0.15},{"x":0.48,"y":0.15},{"x":0.54,"y":0.15},{"x":0.61,"y":0.15},{"x":0.67,"y":0.15},
{"x":0.05,"y":0.22},{"x":0.12,"y":0.22},{"x":0.18,"y":0.22},{"x":0.25,"y":0.22},{"x":0.31,"y":0.22},{"x":0.38,"y":0.22},{"x":0.44,"y":0.22},{"x":0.51,"y":0.22},{"x":0.57,"y":0.22},{"x":0.64,"y":0.22},
{"x":0.02,"y":0.28},{"x":0.09,"y":0.28},{"x":0.15,"y":0.28},{"x":0.22,"y":0.28},{"x":0.28,"y":0.28},{"x":0.35,"y":0.28},{"x":0.41,"y":0.28},{"x":0.48,"y":0.28},{"x":0.54,"y":0.28},{"x":0.61,"y":0.28},{"x":0.67,"y":0.28},
{"x":0.05,"y":0.35},{"x":0.12,"y":0.35},{"x":0.18,"y":0.35},{"x":0.25,"y":0.35},{"x":0.31,"y":0.35},{"x":0.38,"y":0.35},{"x":0.44,"y":0.35},{"x":0.51,"y":0.35},{"x":0.57,"y":0.35},{"x":0.64,"y":0.35},
{"x":0.02,"y":0.41},{"x":0.09,"y":0.41},{"x":0.15,"y":0.41},{"x":0.22,"y":0.41},{"x":0.28,"y":0.41},{"x":0.35,"y":0.41},{"x":0.41,"y":0.41},{"x":0.48,"y":0.41},{"x":0.54,"y":0.41},{"x":0.61,"y":0.41},{"x":0.67,"y":0.41},
{"x":0.05,"y":0.48},{"x":0.12,"y":0.48},{"x":0.18,"y":0.48},{"x":0.25,"y":0.48},{"x":0.31,"y":0.48},{"x":0.38,"y":0.48},{"x":0.44,"y":0.48},{"x":0.51,"y":0.48},{"x":0.57,"y":0.48},{"x":0.64,"y":0.48},
{"x":0.02,"y":0.54},{"x":0.09,"y":0.54},{"x":0.15,"y":0.54},{"x":0.22,"y":0.54},{"x":0.28,"y":0.54},{"x":0.35,"y":0.54},{"x":0.41,"y":0.54},{"x":0.48,"y":0.54},{"x":0.54,"y":0.54},{"x":0.61,"y":0.54},{"x":0.67,"y":0.54},
{"x":0.05,"y":0.61},{"x":0.12,"y":0.61},{"x":0.18,"y":0.61},{"x":0.25,"y":0.61},{"x":0.31,"y":0.61},{"x":0.38,"y":0.61},{"x":0.44,"y":0.61},{"x":0.51,"y":0.61},{"x":0.57,"y":0.61},{"x":0.64,"y":0.61},{"x":0.7,"y":0.61},{"x":0.35,"y":0.67},{"x":0.41,"y":0.67},{"x":0.48,"y":0.67},{"x":0.54,"y":0.67},{"x":0.61,"y":0.67},{"x":0.67,"y":0.67},{"x":0.74,"y":0.67},{"x":0.38,"y":0.74},{"x":0.44,"y":0.74},{"x":0.51,"y":0.74},{"x":0.57,"y":0.74},{"x":0.64,"y":0.74},{"x":0.7,"y":0.74},{"x":0.77,"y":0.74},{"x":0.41,"y":0.8},{"x":0.48,"y":0.8},{"x":0.54,"y":0.8},{"x":0.61,"y":0.8},{"x":0.67,"y":0.8},{"x":0.74,"y":0.8},{"x":0.8,"y":0.8},{"x":0.42,"y":0.9},{"x":0.51,"y":0.88},{"x":0.57,"y":0.87},{"x":0.64,"y":0.87},{"x":0.7,"y":0.87},{"x":0.77,"y":0.87},{"x":0.83,"y":0.87},{"x":0.6,"y":0.96},{"x":0.68,"y":0.97},{"x":0.76,"y":0.95},{"x":0.85,"y":0.94},{"x":0.92,"y":0.95}]
},
"concat":[
{"width":373,"height":372,"encoding":{"x":{"field":"x","type":"quantitative","scale":{"domain":[0,5],"range":[0,371]},"axis":{"values":[0,1,2,3,4,5],"labels":false,"title":null,"offset":12.5}},"y":{"field":"y","type":"quantitative","scale":{"domain":[0,5],"range":[370,0]},"axis":{"values":[0,1,2,3,4,5],"title":"Length of non-Col\u22120 allele (kb)","offset":15,"labelPadding":18,"titleX":-64,"titleY":193,"titleAnchor":"middle","titleBaseline":"alphabetic","titleAlign":"center"}}},
"layer":[{"data":{"name":"bur"},"mark":{"type":"point","filled":false,"strokeWidth":2.6,"size":60,"color":"#6E8B3D","opacity":1}},{"data":{"values":[{"x":0.0,"y":0.0},{"x":4.7,"y":4.7}]},"mark":{"type":"line","color":"#999999","strokeWidth":1.3}},{"data":{"values":[{"x":1.48,"y":4.49,"name":"Bur-0"}]},"mark":{"type":"text","font":"Liberation Sans","fontSize":21.3,"color":"#000000"},"encoding":{"text":{"field":"name"}}}]},
{"width":373,"height":372,"encoding":{"x":{"field":"x","type":"quantitative","scale":{"domain":[0,5],"range":[0,371]},"axis":{"values":[0,1,2,3,4,5],"labels":false,"title":null,"offset":13}},"y":{"field":"y","type":"quantitative","scale":{"domain":[0,5],"range":[370,0]},"axis":{"values":[0,1,2,3,4,5],"labels":false,"title":null,"offset":15}}},
"layer":[{"data":{"name":"kro"},"mark":{"type":"point","filled":false,"strokeWidth":2.6,"size":60,"color":"#36648B","opacity":1}},{"data":{"values":[{"x":0.0,"y":0.0},{"x":4.72,"y":4.72}]},"mark":{"type":"line","color":"#999999","strokeWidth":1.3}},{"data":{"values":[{"x":1.22,"y":4.49,"name":"Kro-0"}]},"mark":{"type":"text","font":"Liberation Sans","fontSize":21.3,"color":"#000000"},"encoding":{"text":{"field":"name"}}}]},
{"width":373,"height":372,"encoding":{"x":{"field":"x","type":"quantitative","scale":{"domain":[0,5],"range":[2.5,373]},"axis":{"values":[0,1,2,3,4,5],"title":"Length of Col\u22120 allele (kb)","offset":15,"labelPadding":11,"titleX":173.5,"titleY":80,"titleBaseline":"alphabetic","titleAnchor":"middle","encoding":{"labels":{"dx":{"value":{"expr":"datum.value==0?-12:2"}}}}}},"y":{"field":"y","type":"quantitative","scale":{"domain":[0,5],"range":[372.5,3]},"axis":{"values":[0,1,2,3,4,5],"title":"Length of non-Col\u22120 allele (kb)","offset":12.5,"labelPadding":20,"titleX":-65.5,"titleY":188,"titleAnchor":"middle","titleBaseline":"alphabetic","titleAlign":"center"}}},
"layer":[{"data":{"name":"c24"},"mark":{"type":"point","filled":false,"strokeWidth":2.6,"size":60,"color":"#FFC125","opacity":1}},{"data":{"values":[{"x":0.02,"y":0.03},{"x":4.7,"y":4.74}]},"mark":{"type":"line","color":"#999999","strokeWidth":1.3}},{"data":{"values":[{"x":1.37,"y":4.51,"name":"C24"}]},"mark":{"type":"text","font":"Liberation Sans","fontSize":21.3,"color":"#000000"},"encoding":{"text":{"field":"name"}}}]},
{"width":373,"height":372,"encoding":{"x":{"field":"x","type":"quantitative","scale":{"domain":[0,5],"range":[0,370.5]},"axis":{"values":[0,1,2,3,4,5],"title":"Length of Col\u22120 allele (kb)","offset":13,"labelPadding":13,"titleX":183,"titleY":82,"titleBaseline":"alphabetic","titleAnchor":"middle","encoding":{"labels":{"dx":{"value":{"expr":"datum.value==0?0:14"}}}}}},"y":{"field":"y","type":"quantitative","scale":{"domain":[0,5],"range":[371,1]},"axis":{"values":[0,1,2,3,4,5],"labels":false,"title":null,"offset":15}}},
"layer":[{"data":{"name":"ler"},"mark":{"type":"point","filled":false,"strokeWidth":2.6,"size":60,"color":"#CD2626","opacity":1}},{"data":{"values":[{"x":0.03,"y":0.02},{"x":4.73,"y":4.73}]},"mark":{"type":"line","color":"#999999","strokeWidth":1.3}},{"data":{"values":[{"x":1.25,"y":4.46,"name":"Ler-1"}]},"mark":{"type":"text","font":"Liberation Sans","fontSize":21.3,"color":"#000000"},"encoding":{"text":{"field":"name"}}}]}
]}
